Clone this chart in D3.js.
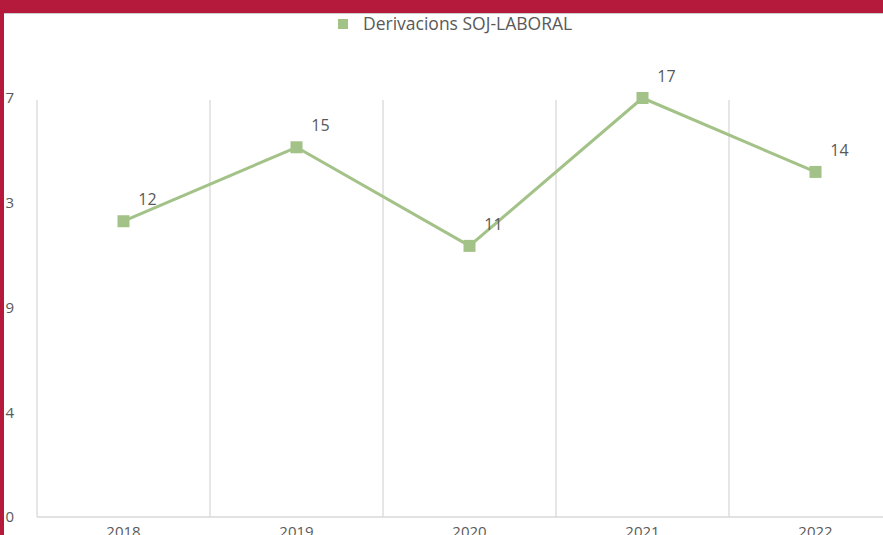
<!DOCTYPE html>
<html><head><meta charset="utf-8">
<script src="https://cdn.jsdelivr.net/npm/d3@7"></script>
<style>body{margin:0;background:#fff;}svg{display:block;}</style>
</head><body>
<svg id="c" width="883" height="535"></svg>
<script>
const categories = ["2018","2019","2020","2021","2022"];
const values = [12, 15, 11, 17, 14];
const yTicks = [0, 4.25, 8.5, 12.75, 17];
const seriesName = "Derivacions SOJ-LABORAL";

(function(){
const svg = d3.select("#c");
const W = 883, H = 535;
const plotLeft = 37, bandW = 173, plotTop = 98, plotBottom = 517;
const x = d3.scaleBand().domain(categories).range([plotLeft, plotLeft + bandW * categories.length]).padding(0);
const y = d3.scaleLinear().domain([0, 17]).range([plotBottom, plotTop]);
const green = "#a3c288", grid = "#d9d9d9", txt = "#595959";
const font = "Open Sans, sans-serif";

svg.append("rect").attr("width", W).attr("height", H).attr("fill", "#fff");

const bounds = categories.map(c => x(c));
svg.append("g").selectAll("line").data(bounds).join("line")
  .attr("x1", d => d).attr("x2", d => d).attr("y1", y(17) + 2).attr("y2", plotBottom)
  .attr("stroke", grid).attr("stroke-width", 1.3);

svg.append("line").attr("x1", plotLeft).attr("x2", W).attr("y1", plotBottom).attr("y2", plotBottom)
  .attr("stroke", grid).attr("stroke-width", 1.3);

const yAxis = d3.axisLeft(y).tickValues(yTicks).tickSize(0).tickFormat(d => Math.round(d));
const ya = svg.append("g").attr("transform", "translate(14,0)").call(yAxis);
ya.select(".domain").remove();
ya.selectAll("text").attr("fill", txt).attr("font-size", 15).attr("font-family", font).attr("x", 0);

const xAxis = d3.axisBottom(x).tickSize(0);
const xa = svg.append("g").attr("transform", `translate(0,${plotBottom})`).call(xAxis);
xa.select(".domain").remove();
xa.selectAll("text").attr("fill", txt).attr("font-size", 15).attr("font-family", font)
  .attr("y", 20).attr("dy", 0);

const cx = c => x(c) + x.bandwidth() / 2;
const line = d3.line().x((d, i) => cx(categories[i])).y(d => y(d));
svg.append("path").datum(values).attr("d", line).attr("fill", "none")
  .attr("stroke", green).attr("stroke-width", 3).attr("stroke-linejoin", "round");

svg.append("g").selectAll("rect").data(values).join("rect")
  .attr("x", (d, i) => cx(categories[i]) - 6).attr("y", d => y(d) - 6)
  .attr("width", 12).attr("height", 12).attr("fill", green);

svg.append("g").selectAll("text").data(values).join("text")
  .attr("x", (d, i) => cx(categories[i]) + 24).attr("y", d => y(d) - 16)
  .attr("text-anchor", "middle").attr("fill", txt).attr("font-size", 16)
  .attr("font-family", font).text(d => d);

svg.append("rect").attr("x", 338).attr("y", 19).attr("width", 10).attr("height", 10).attr("fill", green);
svg.append("text").attr("x", 363).attr("y", 30).attr("fill", txt).attr("font-size", 17.5)
  .attr("font-family", font).text(seriesName);

svg.append("rect").attr("x", 0).attr("y", 0).attr("width", W).attr("height", 13).attr("fill", "#b51a3c");
svg.append("line").attr("x1", 4).attr("x2", W).attr("y1", 13.5).attr("y2", 13.5).attr("stroke", "#ccc").attr("stroke-width", 1);
svg.append("rect").attr("x", 0).attr("y", 0).attr("width", 4).attr("height", H).attr("fill", "#b51a3c");
})();
</script>
</body></html>
